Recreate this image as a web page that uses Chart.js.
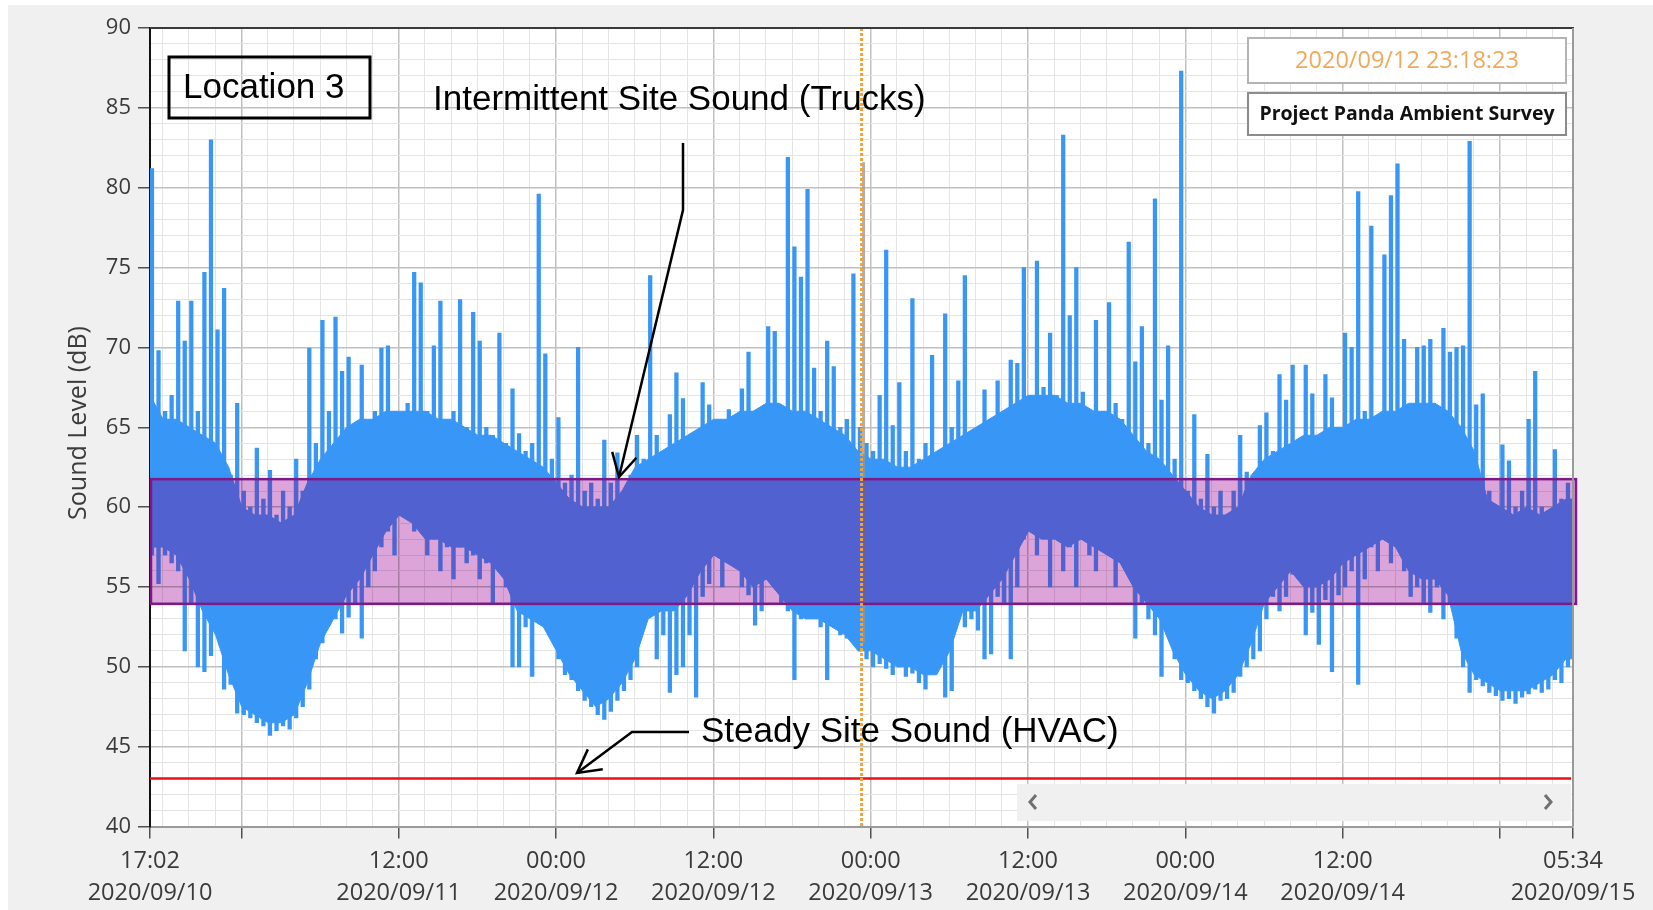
<!DOCTYPE html>
<html><head><meta charset="utf-8">
<script src="https://cdn.jsdelivr.net/npm/chart.js@4.4.0/dist/chart.umd.min.js"></script>
<style>html,body{margin:0;padding:0;background:#f0f0f0;overflow:hidden}canvas{display:block}</style>
</head><body>
<canvas id="c" width="1653" height="910"></canvas>
<script>
// ---------------- data ----------------
const startTime = "2020-09-10T17:02:00";
const endTime = "2020-09-15T05:34:00";
const binHours = 0.5;   // one high/low strand every half hour from startTime
const bodyHours = 1;    // dense-body envelope, one value per hour from startTime (last value = endTime)

// per half-hour: highest and lowest reading (strands / spikes)
const soundHigh = [
  81.2, 69.8, 66, 67, 72.9, 70.4, 72.9, 66, 74.7, 83.0,
  71.1, 73.7, 62, 66.5, 61, 60, 63.7, 60.5, 62.3, 59.5,
  61, 60, 63, 61, 69.95, 64, 71.7, 66, 71.9, 68.5,
  69.4, 65, 68.9, 65, 66, 69.95, 70.1, 66, 65.5, 66.5,
  74.7, 74.05, 66, 70.1, 72.9, 65, 66, 73, 65, 72.2,
  70.4, 65, 64.5, 70.9, 64, 67.4, 64.6, 63.5, 64, 79.6,
  69.6, 63, 65.6, 61.5, 62, 70.0, 61, 61.5, 60.5, 64.2,
  61.5, 63.4, 61, 62, 64.5, 63, 74.5, 64.5, 63.5, 65.8,
  68.4, 66.8, 64, 63.5, 67.8, 66.4, 64.5, 65, 66.1, 65,
  67.4, 69.7, 66, 65.5, 71.3, 71.0, 66, 81.9, 76.3, 74.4,
  79.9, 68.7, 66, 70.4, 68.8, 65, 65.5, 74.6, 65, 64,
  63.5, 67.0, 76.1, 65.1, 67.8, 63.5, 73.05, 63, 64, 69.5,
  78.6, 72.1, 65, 67.9, 74.5, 64.2, 64.5, 67.35, 65.5, 67.9,
  66, 69.2, 69, 75.0, 67, 75.4, 67.5, 70.9, 67, 83.3,
  72.0, 75.0, 67.2, 66, 71.7, 66, 72.8, 66.5, 65.5, 76.6,
  69.1, 71.3, 64, 79.3, 66.7, 70.1, 63, 87.3, 61, 65.8,
  60.5, 63.3, 60, 61, 59.5, 61, 64.5, 62.2, 61, 65.1,
  65.9, 63.5, 68.3, 66.7, 68.9, 64, 68.9, 67.1, 64, 68.3,
  66.85, 65, 70.9, 70.0, 79.75, 66, 77.6, 65, 75.8, 79.5,
  81.5, 70.5, 66, 70.0, 70.1, 70.5, 66, 71.2, 69.7, 70.0,
  70.1, 82.9, 66.4, 67.1, 61, 60, 63.9, 62.9, 60, 61,
  65.5, 68.5, 60, 59.5, 63.6, 60.5, 61.5, 64.3
];
const soundLow = [
  57, 55.2, 57, 56.5, 56, 51, 54, 50, 49.7, 50.7,
  53, 48.6, 48.9, 47.1, 47, 46.8, 46.5, 46.3, 45.7, 46.0,
  46.3, 46.1, 46.8, 47.5, 48.6, 50.5, 51.5, 52.6, 53, 52.1,
  53.1, 54, 51.8, 55, 56, 57.5, 58.5, 57, 59.5, 60.3,
  58.5, 59, 57, 58, 56, 57.5, 55.5, 57.5, 56.5, 57,
  55.5, 56.5, 54, 56.5, 55, 50, 50, 52.5, 49.4, 52.9,
  52.5, 51.8, 50.5, 49.5, 49.2, 48.5, 47.9, 47.5, 47, 46.7,
  47.2, 47.9, 48.5, 49.2, 50, 53, 54, 50.5, 52, 48.4,
  49.5, 50, 52, 48.1, 54.4, 55.2, 57, 55, 56.5, 57,
  55, 54.5, 52.6, 53.5, 56, 57, 54, 53.5, 49.2, 53,
  53.5, 54.4, 52.5, 49.2, 53, 52, 51.8, 53, 51, 50.5,
  50, 50.2, 49.9, 49.5, 50, 49.4, 49.6, 49, 48.6, 50,
  null, 48.1, 48.5, 53, 52.5, 53, 52.3, 50.5, 50.8, 54.4,
  54, 50.5, 55, 58, 59.5, 57, 58.5, 55, 58, 56,
  57.5, 55, 58, 57, 56, 58, 57, 55, 57, 56,
  51.8, 54, 53, 52, 49.4, 53, 50.5, 49.2, 49, 48.5,
  48, 47.5, 47.1, 47.9, 48, 48.4, 49.4, 50, 50.5, 51,
  53, 54.4, 53.5, 54.4, 55.8, 56, 52, 53.4, 51.4, 54.2,
  49.7, 54.5, 55, 56, 48.9, 55.5, 57.5, 56, 58, 56.5,
  58.5, 56, 54.4, 55, 54, 53.4, 55, 53, 54, 51.8,
  50, 48.4, 49.2, 48.8, 48.4, 48.2, 47.9, 48, 47.7, 48.1,
  48.3, 48.6, 48.4, 48.6, 49.2, 49, 50, 50
];
// per hour: top and bottom of the dense (solid) part of the trace
const bodyTop = [
  67, 65.5, 65.5, 65, 64.5, 64, 62.5, 60, 59.5, 59.5,
  59, 59.5, 61.5, 63, 64, 65, 65.5, 65.5, 66, 66,
  66, 66, 65.5, 65.5, 65, 64.5, 64.5, 64, 63.5, 63,
  62.5, 61.5, 60.5, 60, 60, 60, 61, 62.5, 63, 63.5,
  64, 64.5, 65, 65.5, 65.5, 66, 66, 66.5, 66.5, 66,
  66, 65.5, 65, 64.5, 63.5, 63, 63, 62.5, 62.5, 63,
  63.5, 64, 64.5, 65, 65.5, 66, 66.5, 67, 67, 67,
  66.5, 66.5, 66, 66, 65.5, 64.5, 63.5, 63, 62, 61,
  60, 59.5, 59.5, 60, 62, 63, 63.5, 64, 64.5, 64.5,
  65, 65, 65.5, 65.5, 66, 66, 66.5, 66.5, 66.5, 66,
  65, 63.5, 60.5, 60, 59.5, 60, 59.5, 60, 60.5, 60.5
];
const bodyBottom = [
  57.5, 57.5, 57, 55.5, 53.5, 52, 49.5, 47.5, 47, 46.5,
  46.5, 47, 49, 51.5, 53, 54.5, 55.5, 57, 58.5, 59.5,
  59, 58, 58, 57.5, 57.5, 57, 56.5, 55.5, 53.5, 53,
  52.5, 51, 49.5, 48.5, 47.5, 48, 49, 50.5, 53, 53.5,
  53.5, 54.5, 56, 57, 56.5, 56, 55, 55.5, 54.5, 53.5,
  53, 53, 52.5, 52, 51, 51, 50.5, 50, 50, 49.5,
  49.5, 51, 53.5, 53.5, 54.5, 55.5, 57, 58.5, 58, 58,
  57.5, 58, 57.5, 57, 56.5, 55, 54, 53, 51, 49.5,
  48.5, 48, 48.5, 49.5, 51.5, 54, 55, 56, 55, 55,
  55.5, 56.5, 57, 57.5, 58, 57.5, 56, 55.5, 55.5, 54.5,
  51, 49.5, 49, 48.5, 48.5, 48.5, 49, 49.5, 50.5, 50.5
];

const hvacLevel = 43;
const truckBand = [53.94, 61.75];
const cursorTime = "2020-09-12T23:18:23";
const cursorStrand = [51.5, 81.6];

const majorTicks = ["2020-09-10T17:02:00","2020-09-11T00:00:00","2020-09-11T12:00:00","2020-09-12T00:00:00",
  "2020-09-12T12:00:00","2020-09-13T00:00:00","2020-09-13T12:00:00","2020-09-14T00:00:00",
  "2020-09-14T12:00:00","2020-09-15T00:00:00","2020-09-15T05:34:00"];
const majorTickLabels = [["17:02","2020/09/10"], "", ["12:00","2020/09/11"], ["00:00","2020/09/12"],
  ["12:00","2020/09/12"], ["00:00","2020/09/13"], ["12:00","2020/09/13"], ["00:00","2020/09/14"],
  ["12:00","2020/09/14"], "", ["05:34","2020/09/15"]];
const yTickValues = [40, 45, 50, 55, 60, 65, 70, 75, 80, 85, 90];

const yAxisTitle = "Sound Level (dB)";
const locationLabel = "Location 3";
const truckLabel = "Intermittent Site Sound (Trucks)";
const hvacLabel = "Steady Site Sound (HVAC)";
const surveyTitle = "Project Panda Ambient Survey";

// ---------------- helpers ----------------
const hoursOf = s => (Date.parse(s + "Z") - Date.parse(startTime + "Z")) / 3600000;
const totalHours = hoursOf(endTime);
const majorHours = majorTicks.map(hoursOf);
const cursorHours = hoursOf(cursorTime);
const isMajorX = v => majorHours.some(m => Math.abs(m - v) < 1e-6);

const firstEven = hoursOf("2020-09-10T18:00:00");
const xTickValues = [...majorHours];
for (let t = firstEven; t < totalHours; t += 2) {
  if (!xTickValues.some(m => Math.abs(m - t) < 1e-6)) xTickValues.push(t);
}
xTickValues.sort((a, b) => a - b);
const yGridValues = [];
for (let v = 40; v <= 90; v++) yGridValues.push(v);

const strandPoints = soundHigh.map((hv, i) => ({ x: i * binHours + 0.15, y: soundLow[i] === null ? null : [soundLow[i], hv] }));
const bodyX = i => (i === bodyTop.length - 1 ? totalHours : i * bodyHours);
const bodyTopPoints = bodyTop.map((v, i) => ({ x: bodyX(i), y: v }));
const bodyBottomPoints = bodyBottom.map((v, i) => ({ x: bodyX(i), y: v }));
const hvacPoints = [{ x: 0, y: hvacLevel }, { x: totalHours - 0.15, y: hvacLevel }];

const fmtCursor = s => s.replace("T", " ").replace(/-/g, "/");
const BLUE = '#3897f6';

function arrowHead(ctx, fx, fy, tx, ty, len, ang) {
  const a = Math.atan2(ty - fy, tx - fx);
  ctx.beginPath();
  ctx.moveTo(tx - len * Math.cos(a - ang), ty - len * Math.sin(a - ang));
  ctx.lineTo(tx, ty);
  ctx.lineTo(tx - len * Math.cos(a + ang), ty - len * Math.sin(a + ang));
  ctx.stroke();
}

const decor = {
  id: 'decor',
  beforeDraw(chart) {
    const { ctx, chartArea: a } = chart;
    ctx.save();
    ctx.fillStyle = '#ffffff';
    ctx.fillRect(0, 0, chart.width, 5);
    ctx.fillRect(0, 0, 8, chart.height);
    ctx.fillRect(a.left, a.top, a.right - a.left, a.bottom - a.top);
    ctx.restore();
  },
  afterDatasetsDraw(chart) {
    const { ctx, chartArea: a, scales: { x, y } } = chart;
    ctx.save();
    const cx = x.getPixelForValue(cursorHours);
    ctx.strokeStyle = 'rgba(150,150,150,0.75)';
    ctx.lineWidth = 3;
    ctx.beginPath();
    ctx.moveTo(cx + 2, y.getPixelForValue(cursorStrand[1]));
    ctx.lineTo(cx + 2, y.getPixelForValue(cursorStrand[0]));
    ctx.stroke();
    // truck band overlay
    const yT = y.getPixelForValue(truckBand[1]);
    const yB = y.getPixelForValue(truckBand[0]);
    ctx.globalCompositeOperation = 'multiply';
    ctx.fillStyle = 'rgb(220,164,216)';
    ctx.fillRect(a.left, yT, a.right + 3 - a.left, yB - yT);
    ctx.globalCompositeOperation = 'lighten';
    ctx.fillStyle = 'rgb(82,0,0)';
    ctx.fillRect(a.left, yT, a.right + 3 - a.left, yB - yT);
    ctx.globalCompositeOperation = 'source-over';
    ctx.strokeStyle = '#7c1a88';
    ctx.lineWidth = 2.5;
    ctx.strokeRect(a.left + 1, yT, a.right + 2 - a.left, yB - yT);
    // orange dotted cursor
    ctx.strokeStyle = '#f2a23a';
    ctx.lineWidth = 3;
    ctx.setLineDash([3, 2]);
    ctx.beginPath();
    ctx.moveTo(cx, a.top);
    ctx.lineTo(cx, a.bottom);
    ctx.stroke();
    ctx.restore();
  },
  afterDraw(chart) {
    const { ctx, chartArea: a } = chart;
    ctx.save();
    ctx.strokeStyle = '#3a3a3a';
    ctx.lineWidth = 2;
    ctx.beginPath(); ctx.moveTo(a.left, a.top); ctx.lineTo(a.right + 1, a.top); ctx.stroke();
    ctx.strokeStyle = '#9a9a9a';
    ctx.beginPath(); ctx.moveTo(a.right, a.top); ctx.lineTo(a.right, a.bottom); ctx.stroke();

    // scrollbar
    ctx.fillStyle = '#f0f0f0';
    ctx.fillRect(1017, 784, a.right - 2 - 1017, 37);
    ctx.strokeStyle = '#707070';
    ctx.lineWidth = 3;
    ctx.beginPath(); ctx.moveTo(1036, 795); ctx.lineTo(1030, 802); ctx.lineTo(1036, 809); ctx.stroke();
    ctx.beginPath(); ctx.moveTo(1545, 795); ctx.lineTo(1551, 802); ctx.lineTo(1545, 809); ctx.stroke();

    // annotations
    ctx.strokeStyle = '#000';
    ctx.lineWidth = 3;
    ctx.strokeRect(169, 57, 201, 61);
    ctx.fillStyle = '#000';
    ctx.font = '35px "Liberation Sans", Arial, sans-serif';
    ctx.textBaseline = 'middle';
    ctx.textAlign = 'left';
    ctx.fillText(locationLabel, 183, 88);
    ctx.fillText(truckLabel, 433, 100);
    ctx.fillText(hvacLabel, 701, 732);

    ctx.lineWidth = 2.5;
    ctx.beginPath(); ctx.moveTo(683, 143); ctx.lineTo(683, 210); ctx.lineTo(619, 477); ctx.stroke();
    arrowHead(ctx, 683, 210, 619, 477, 26, 0.5);
    ctx.beginPath(); ctx.moveTo(689, 732); ctx.lineTo(632, 732); ctx.lineTo(577, 773); ctx.stroke();
    arrowHead(ctx, 632, 732, 577, 773, 26, 0.5);

    // top-right boxes
    ctx.fillStyle = '#ffffff';
    ctx.fillRect(1248, 38, 318, 45);
    ctx.strokeStyle = '#b4b4b4';
    ctx.lineWidth = 2;
    ctx.strokeRect(1248, 38, 318, 45);
    ctx.fillStyle = '#ffffff';
    ctx.fillRect(1248, 93, 318, 42);
    ctx.strokeStyle = '#8c8c8c';
    ctx.strokeRect(1248, 93, 318, 42);
    ctx.textAlign = 'center';
    ctx.fillStyle = '#f2a85c';
    ctx.font = '23.5px "Open Sans", sans-serif';
    ctx.fillText(fmtCursor(cursorTime), 1407, 61);
    ctx.fillStyle = '#111';
    ctx.font = 'bold 19.5px "Open Sans", sans-serif';
    ctx.fillText(surveyTitle, 1407, 114);

    // y axis title
    ctx.translate(79, 423);
    ctx.rotate(-Math.PI / 2);
    ctx.fillStyle = '#3c3c3c';
    ctx.font = '25px "Open Sans", sans-serif';
    ctx.fillText(yAxisTitle, 0, 0);
    ctx.restore();
  }
};

new Chart(document.getElementById('c'), {
  type: 'line',
  data: {
    datasets: [
      { type: 'line', label: 'HVAC', data: hvacPoints, borderColor: '#e8101a', borderWidth: 2.5, pointRadius: 0 },
      { type: 'bar', label: 'Sound strands', data: strandPoints, backgroundColor: BLUE, borderWidth: 0,
        barThickness: 3.6, grouped: false },
      { type: 'line', label: 'Body top', data: bodyTopPoints, borderColor: BLUE, borderWidth: 1,
        backgroundColor: BLUE, fill: '+1', pointRadius: 0, tension: 0 },
      { type: 'line', label: 'Body bottom', data: bodyBottomPoints, borderColor: BLUE, borderWidth: 1,
        pointRadius: 0, tension: 0, fill: false }
    ]
  },
  options: {
    responsive: false, animation: false, devicePixelRatio: 1,
    layout: { padding: { top: 28, right: 80, left: 0, bottom: 0 } },
    plugins: { legend: { display: false }, tooltip: { enabled: false } },
    scales: {
      x: {
        type: 'linear', min: 0, max: totalHours, offset: false,
        afterBuildTicks: s => { s.ticks = xTickValues.map(v => ({ value: v })); },
        afterFit: s => { s.height = 83.5; },
        ticks: {
          autoSkip: false, maxRotation: 0, minRotation: 0, padding: 7,
          font: { family: 'Open Sans', size: 23.5, lineHeight: 1.36 }, color: '#3a3a3a',
          callback: v => { const i = majorHours.findIndex(m => Math.abs(m - v) < 1e-6); return i >= 0 ? majorTickLabels[i] : ''; }
        },
        grid: {
          offset: false,
          color: c => (c.tick && isMajorX(c.tick.value)) ? '#c0c0c0' : '#e4e4e4',
          lineWidth: c => (c.tick && isMajorX(c.tick.value)) ? 1.5 : 1,
          tickColor: c => (c.tick && isMajorX(c.tick.value)) ? '#505050' : 'rgba(0,0,0,0)',
          tickLength: 12, tickWidth: 1.5
        },
        border: { display: true, color: '#9a9a9a', width: 2 }
      },
      y: {
        min: 40, max: 90, beginAtZero: false,
        afterBuildTicks: s => { s.ticks = yGridValues.map(v => ({ value: v })); },
        afterFit: s => { s.width = 150; },
        ticks: {
          autoSkip: false, padding: 7, font: { family: 'Open Sans', size: 22 }, color: '#3a3a3a',
          callback: v => yTickValues.includes(v) ? String(v) : ''
        },
        grid: {
          color: c => (c.tick && c.tick.value % 5 === 0) ? '#c0c0c0' : '#e4e4e4',
          lineWidth: c => (c.tick && c.tick.value % 5 === 0) ? 1.5 : 1,
          tickColor: c => (c.tick && c.tick.value % 5 === 0) ? '#505050' : 'rgba(0,0,0,0)',
          tickLength: 12, tickWidth: 1.5
        },
        border: { display: true, color: '#111111', width: 2 }
      }
    }
  },
  plugins: [decor]
});
</script>
</body></html>
